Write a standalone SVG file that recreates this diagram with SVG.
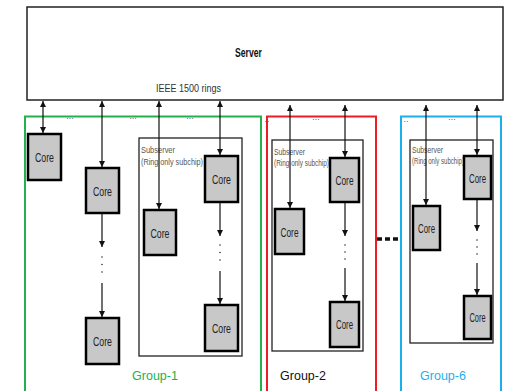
<svg xmlns="http://www.w3.org/2000/svg" width="510" height="391" viewBox="0 0 510 391">
<style>
.core rect{fill:#c8c8c8;stroke:#000;stroke-width:2.5}
.core text{font-family:"Liberation Sans",sans-serif;font-size:13px;fill:#222;text-anchor:middle}
.sub{fill:none;stroke:#222;stroke-width:1.3}
.subt{font-family:"Liberation Sans",sans-serif;font-size:9.5px;fill:#555}
.ln{stroke:#111;stroke-width:1.2;fill:none}
.dot{fill:#333}
.dd{font-family:"Liberation Sans",sans-serif;font-size:9px;fill:#666}
.grp{font-family:"Liberation Sans",sans-serif;font-size:12.5px;text-anchor:middle}
</style>
<defs>
<marker id="ah" viewBox="0 0 10 10" refX="10" refY="5" markerWidth="6" markerHeight="6" markerUnits="userSpaceOnUse" orient="auto-start-reverse">
<path d="M0,0L10,5L0,10z" fill="#111"/>
</marker>
</defs>
<rect width="510" height="391" fill="#fff"/>

<g id="server">
<rect x="27" y="7" width="476" height="93" fill="#fff" stroke="#222" stroke-width="1.5"/>
<text x="235" y="57" font-family="Liberation Sans, sans-serif" font-size="12.5" font-weight="bold" fill="#111" textLength="27" lengthAdjust="spacingAndGlyphs">Server</text>
<text x="156" y="92" font-family="Liberation Sans, sans-serif" font-size="11.5" fill="#333" textLength="65" lengthAdjust="spacingAndGlyphs">IEEE 1500 rings</text>
</g>

<g id="group-1">
<rect x="25" y="116.5" width="236" height="290" fill="none" stroke="#22b14c" stroke-width="2"/>
<text class="grp" x="155" y="380" fill="#22b14c">Group-1</text>
</g>
<g id="group-2">
<rect x="267" y="116.5" width="109" height="290" fill="none" stroke="#ee1c24" stroke-width="2"/>
<text class="grp" x="303" y="380" fill="#111">Group-2</text>
</g>
<g id="group-6">
<rect x="401" y="116.5" width="100" height="290" fill="none" stroke="#1ab0ee" stroke-width="2"/>
<text class="grp" x="443" y="380" fill="#1ab0ee">Group-6</text>
</g>

<g id="subserver-1">
<rect class="sub" x="139" y="138" width="103" height="218"/>
<text class="subt" x="141" y="153" textLength="34" lengthAdjust="spacingAndGlyphs">Subserver</text>
<text class="subt" x="141" y="165" textLength="62" lengthAdjust="spacingAndGlyphs">(Ring only subchip)</text>
</g>
<g id="subserver-2">
<rect class="sub" x="272" y="140" width="91" height="211"/>
<text class="subt" x="274" y="155" textLength="31" lengthAdjust="spacingAndGlyphs">Subserver</text>
<text class="subt" x="274" y="166" textLength="55" lengthAdjust="spacingAndGlyphs">(Ring only subchip)</text>
</g>
<g id="subserver-6">
<rect class="sub" x="410" y="140" width="83" height="203"/>
<text class="subt" x="412" y="153" textLength="31" lengthAdjust="spacingAndGlyphs">Subserver</text>
<text class="subt" x="412" y="164" textLength="52" lengthAdjust="spacingAndGlyphs">(Ring only subchip)</text>
</g>

<g id="core-1a" class="core"><rect x="28" y="134" width="33" height="46"/><text x="44.5" y="162" textLength="19" lengthAdjust="spacingAndGlyphs">Core</text></g>
<g id="core-1b" class="core"><rect x="86" y="168" width="33" height="45"/><text x="102.5" y="196" textLength="19" lengthAdjust="spacingAndGlyphs">Core</text></g>
<g id="core-1c" class="core"><rect x="86" y="318" width="33" height="46"/><text x="102.5" y="346" textLength="19" lengthAdjust="spacingAndGlyphs">Core</text></g>
<g id="core-1d" class="core"><rect x="144" y="210" width="32" height="45"/><text x="160" y="238" textLength="19" lengthAdjust="spacingAndGlyphs">Core</text></g>
<g id="core-1e" class="core"><rect x="205" y="156" width="33" height="46"/><text x="221.5" y="184" textLength="19" lengthAdjust="spacingAndGlyphs">Core</text></g>
<g id="core-1f" class="core"><rect x="205" y="305" width="33" height="46"/><text x="221.5" y="333" textLength="19" lengthAdjust="spacingAndGlyphs">Core</text></g>

<g id="core-2a" class="core"><rect x="275" y="209" width="29" height="45"/><text x="289.5" y="237" textLength="18" lengthAdjust="spacingAndGlyphs">Core</text></g>
<g id="core-2b" class="core"><rect x="330" y="158" width="29" height="44"/><text x="344.5" y="185" textLength="18" lengthAdjust="spacingAndGlyphs">Core</text></g>
<g id="core-2c" class="core"><rect x="330" y="302" width="29" height="45"/><text x="344.5" y="329" font-size="12" textLength="17" lengthAdjust="spacingAndGlyphs">Core</text></g>

<g id="core-6a" class="core"><rect x="413" y="206" width="27" height="44"/><text x="426.5" y="233" textLength="17" lengthAdjust="spacingAndGlyphs">Core</text></g>
<g id="core-6b" class="core"><rect x="464" y="156" width="27" height="43"/><text x="477.5" y="183" textLength="17" lengthAdjust="spacingAndGlyphs">Core</text></g>
<g id="core-6c" class="core"><rect x="464" y="296" width="27" height="43"/><text x="477.5" y="322" font-size="12" textLength="16" lengthAdjust="spacingAndGlyphs">Core</text></g>

<g id="connectors">
<line class="ln" x1="43" y1="101" x2="43" y2="133" marker-start="url(#ah)" marker-end="url(#ah)"/>
<line class="ln" x1="102" y1="101" x2="102" y2="167" marker-start="url(#ah)" marker-end="url(#ah)"/>
<line class="ln" x1="102" y1="214" x2="102" y2="247" marker-end="url(#ah)"/>
<line class="ln" x1="102" y1="283" x2="102" y2="317" marker-end="url(#ah)"/>
<line class="ln" x1="159" y1="101" x2="159" y2="209" marker-start="url(#ah)" marker-end="url(#ah)"/>
<line class="ln" x1="220" y1="101" x2="220" y2="155" marker-start="url(#ah)" marker-end="url(#ah)"/>
<line class="ln" x1="220" y1="203" x2="220" y2="236" marker-end="url(#ah)"/>
<line class="ln" x1="220" y1="271" x2="220" y2="304" marker-end="url(#ah)"/>

<line class="ln" x1="290" y1="105" x2="290" y2="208" marker-start="url(#ah)" marker-end="url(#ah)"/>
<line class="ln" x1="345" y1="105" x2="345" y2="157" marker-start="url(#ah)" marker-end="url(#ah)"/>
<line class="ln" x1="345" y1="203" x2="345" y2="236" marker-end="url(#ah)"/>
<line class="ln" x1="345" y1="268" x2="345" y2="301" marker-end="url(#ah)"/>

<line class="ln" x1="426" y1="105" x2="426" y2="205" marker-start="url(#ah)" marker-end="url(#ah)"/>
<line class="ln" x1="477" y1="105" x2="477" y2="155" marker-start="url(#ah)" marker-end="url(#ah)"/>
<line class="ln" x1="477" y1="200" x2="477" y2="231" marker-end="url(#ah)"/>
<line class="ln" x1="477" y1="263" x2="477" y2="295" marker-end="url(#ah)"/>

<line x1="377" y1="239" x2="401" y2="239" stroke="#111" stroke-width="3.5" stroke-dasharray="5,3"/>

<g class="dot">
<circle cx="102" cy="257" r="0.8"/><circle cx="102" cy="264.5" r="0.8"/><circle cx="102" cy="272" r="0.8"/>
<circle cx="220" cy="245" r="0.8"/><circle cx="220" cy="252.5" r="0.8"/><circle cx="220" cy="260" r="0.8"/>
<circle cx="345" cy="245" r="0.8"/><circle cx="345" cy="252" r="0.8"/><circle cx="345" cy="259" r="0.8"/>
<circle cx="477" cy="240" r="0.8"/><circle cx="477" cy="247" r="0.8"/><circle cx="477" cy="254" r="0.8"/>
</g>
<text class="dd" x="70" y="119" text-anchor="middle">...</text>
<text class="dd" x="133" y="119" text-anchor="middle">...</text>
<text class="dd" x="190" y="119" text-anchor="middle">...</text>
<text class="dd" x="267" y="122" text-anchor="middle">..</text>
<text class="dd" x="316" y="120" text-anchor="middle">...</text>
<text class="dd" x="406" y="122" text-anchor="middle">..</text>
<text class="dd" x="452" y="120" text-anchor="middle">...</text>
</g>
</svg>
